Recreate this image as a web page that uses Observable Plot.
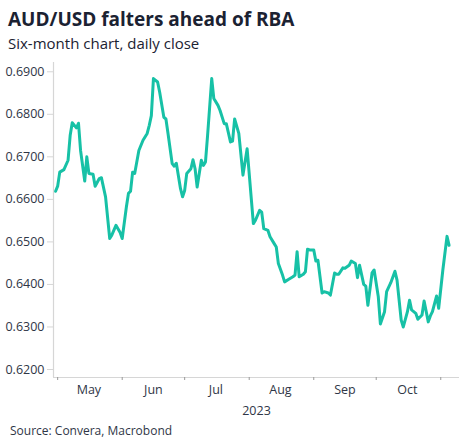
<!DOCTYPE html>
<html><head><meta charset="utf-8">
<script src="https://cdn.jsdelivr.net/npm/d3@7"></script>
<script src="https://cdn.jsdelivr.net/npm/@observablehq/plot@0.6"></script>
<style>
body{margin:0;background:#fff;}
#wrap{position:relative;width:474px;height:448px;font-family:"Open Sans",sans-serif;color:#1b2232;overflow:hidden;}
#title{position:absolute;left:8px;top:10.2px;font-size:19px;line-height:1;font-weight:700;white-space:nowrap;}
#sub{position:absolute;left:8px;top:35.7px;font-size:15px;line-height:1;font-weight:400;white-space:nowrap;}
#chart{position:absolute;left:0;top:58px;}
#src{position:absolute;left:10px;top:425.3px;font-size:12px;line-height:1;color:#2f3646;white-space:nowrap;}
</style></head><body>
<div id="wrap">
<div id="title">AUD/USD falters ahead of RBA</div>
<div id="sub">Six-month chart, daily close</div>
<div id="chart"></div>
<div id="src">Source: Convera, Macrobond</div>
</div>
<script>
const dates = ["2023-04-30","2023-05-01","2023-05-02","2023-05-04","2023-05-06","2023-05-07","2023-05-08","2023-05-10","2023-05-11","2023-05-12","2023-05-14","2023-05-15","2023-05-16","2023-05-18","2023-05-19","2023-05-21","2023-05-22","2023-05-24","2023-05-26","2023-05-27","2023-05-29","2023-05-31","2023-06-01","2023-06-03","2023-06-04","2023-06-05","2023-06-06","2023-06-07","2023-06-09","2023-06-11","2023-06-13","2023-06-14","2023-06-15","2023-06-16","2023-06-18","2023-06-19","2023-06-21","2023-06-22","2023-06-23","2023-06-25","2023-06-26","2023-06-27","2023-06-29","2023-06-30","2023-07-01","2023-07-02","2023-07-04","2023-07-05","2023-07-06","2023-07-07","2023-07-09","2023-07-10","2023-07-11","2023-07-12","2023-07-14","2023-07-15","2023-07-17","2023-07-18","2023-07-20","2023-07-21","2023-07-23","2023-07-24","2023-07-25","2023-07-27","2023-07-29","2023-07-31","2023-08-03","2023-08-04","2023-08-06","2023-08-07","2023-08-08","2023-08-10","2023-08-11","2023-08-13","2023-08-14","2023-08-15","2023-08-17","2023-08-18","2023-08-20","2023-08-22","2023-08-23","2023-08-24","2023-08-25","2023-08-27","2023-08-28","2023-08-29","2023-08-30","2023-09-01","2023-09-02","2023-09-03","2023-09-05","2023-09-06","2023-09-08","2023-09-09","2023-09-11","2023-09-12","2023-09-13","2023-09-15","2023-09-16","2023-09-18","2023-09-19","2023-09-21","2023-09-22","2023-09-23","2023-09-25","2023-09-26","2023-09-27","2023-09-29","2023-09-30","2023-10-02","2023-10-03","2023-10-05","2023-10-06","2023-10-08","2023-10-10","2023-10-11","2023-10-13","2023-10-14","2023-10-16","2023-10-17","2023-10-18","2023-10-20","2023-10-21","2023-10-23","2023-10-24","2023-10-26","2023-10-27","2023-10-28","2023-10-30","2023-10-31","2023-11-02","2023-11-04","2023-11-05"];
const closes = [0.6619,0.6631,0.6664,0.6670,0.6692,0.6750,0.6780,0.6768,0.6779,0.6715,0.6643,0.6700,0.6661,0.6659,0.6631,0.6649,0.6651,0.6606,0.6508,0.6516,0.6539,0.6522,0.6508,0.6582,0.6614,0.6619,0.6664,0.6661,0.6715,0.6739,0.6755,0.6774,0.6797,0.6884,0.6876,0.6852,0.6793,0.6789,0.6755,0.6684,0.6678,0.6685,0.6625,0.6606,0.6621,0.6661,0.6672,0.6693,0.6672,0.6629,0.6692,0.6680,0.6688,0.6750,0.6884,0.6837,0.6821,0.6809,0.6778,0.6778,0.6735,0.6737,0.6789,0.6755,0.6657,0.6719,0.6543,0.6551,0.6574,0.6570,0.6531,0.6527,0.6512,0.6496,0.6488,0.6449,0.6422,0.6406,0.6412,0.6418,0.6422,0.6477,0.6418,0.6424,0.6430,0.6483,0.6481,0.6481,0.6455,0.6457,0.6380,0.6383,0.6380,0.6375,0.6427,0.6424,0.6424,0.6439,0.6438,0.6445,0.6455,0.6449,0.6416,0.6445,0.6400,0.6396,0.6351,0.6427,0.6434,0.6371,0.6307,0.6336,0.6383,0.6404,0.6431,0.6410,0.6316,0.6300,0.6336,0.6363,0.6340,0.6332,0.6318,0.6328,0.6361,0.6312,0.6326,0.6336,0.6373,0.6344,0.6434,0.6513,0.6492];
const yTicks = [0.62,0.63,0.64,0.65,0.66,0.67,0.68,0.69];
const monthStarts = ["2023-05-01","2023-06-01","2023-07-01","2023-08-01","2023-09-01","2023-10-01","2023-11-01"];
const monthLabels = ["May","Jun","Jul","Aug","Sep","Oct"];
const monthLabelDates = ["2023-05-16","2023-06-16","2023-07-16","2023-08-16","2023-09-16","2023-10-16"];
const yearLabel = "2023";

const data = dates.map((d,i)=>({date:new Date(d), value:closes[i]}));
const x0 = new Date("2023-04-29"), x1 = new Date("2023-11-10");
const yMin = 0.61812, yMax = 0.69218;
const labelMap = new Map(monthLabelDates.map((d,i)=>[+new Date(d), monthLabels[i]]));
const axisColor = "#d6d6d6";
const textColor = "#2f3646";

const chart = Plot.plot({
  width:474, height:360,
  marginTop:4, marginBottom:41, marginLeft:53, marginRight:15,
  x:{type:"utc", domain:[x0,x1]},
  y:{domain:[yMin,yMax]},
  style:{fontFamily:"'Open Sans', sans-serif", fontSize:"12.5px", color:textColor, background:"transparent"},
  marks:[
    Plot.ruleX([x0],{stroke:axisColor, strokeWidth:1.2}),
    Plot.ruleY([yMin],{stroke:axisColor, strokeWidth:1.2}),
    Plot.axisY(yTicks,{tickSize:6, tickPadding:3, tickFormat:d3.format(".4f"), stroke:axisColor, fill:textColor, label:null}),
    Plot.axisX(monthStarts.map(d=>new Date(d)),{tickSize:3, tickFormat:()=>"", stroke:"#9a9a9a", label:null}),
    Plot.axisX(monthLabelDates.map(d=>new Date(d)),{tickSize:0, tickPadding:8, tickFormat:d=>labelMap.get(+d), fill:textColor, label:null}),
    Plot.text([yearLabel],{frameAnchor:"bottom", dy:33, lineAnchor:"middle", fill:textColor, fontSize:12.5}),
    Plot.lineY(data,{x:"date", y:"value", stroke:"#17c1a6", strokeWidth:3, strokeLinejoin:"round"})
  ]
});
document.getElementById("chart").appendChild(chart);
</script>
</body></html>
